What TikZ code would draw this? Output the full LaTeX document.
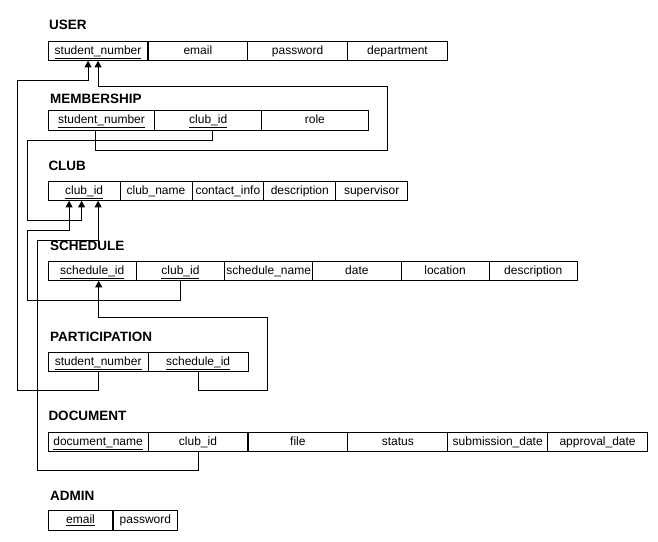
\documentclass[tikz,border=0pt]{standalone}
\usepackage{fontspec}
\setmainfont{Liberation Sans}
\usetikzlibrary{arrows.meta,matrix}

\begin{document}
\begin{tikzpicture}[x=1pt,y=-1pt,
    tbl/.style={matrix of nodes, anchor=north west, inner sep=0pt, outer sep=0pt, column sep=-0.9pt,
      nodes={draw, line width=0.9pt, minimum width=#1, minimum height=19.7pt, inner xsep=1pt,
        inner ysep=0pt, outer sep=0pt, text height=9pt, text depth=3pt, font=\fontsize{12}{14}\selectfont}},
    title/.style={anchor=base west, inner sep=0pt, font=\fontsize{13.5}{16}\selectfont\bfseries},
    fk/.style={line width=0.9pt, -{Triangle[width=7pt,length=6.5pt]}}]
    \useasboundingbox (0,0) rectangle (658,541);

    % tables
    \node[title] (userT) at (49,29.3) {USER};
    \matrix (user) [tbl=99.8pt] at (47.7,40.7) {
      \underline{student\_number} & email & password & department \\
    };
    \node[title] (memT) at (50,103.3) {MEMBERSHIP};
    \matrix (mem) [tbl=106.7pt] at (47.7,110) {
      \underline{student\_number} & \underline{club\_id} & role \\
    };
    \node[title] (clubT) at (48.3,170.7) {CLUB};
    \matrix (club) [tbl=71.9pt] at (47.7,180.7) {
      \underline{club\_id} & club\_name & contact\_info & description & supervisor \\
    };
    \node[title] (schT) at (50,250) {SCHEDULE};
    \matrix (sch) [tbl=88.2pt] at (47.7,260.7) {
      \underline{schedule\_id} & \underline{club\_id} & schedule\_name & date & location & description \\
    };
    \node[title] (partT) at (50,341) {PARTICIPATION};
    \matrix (part) [tbl=100pt] at (47.7,351.7) {
      \underline{student\_number} & \underline{schedule\_id} \\
    };
    \node[title] (docT) at (48.3,420.7) {DOCUMENT};
    \matrix (doc) [tbl=99.9pt] at (47.7,431.7) {
      \underline{document\_name} & club\_id & file & status & submission\_date & approval\_date \\
    };
    \node[title] (adminT) at (50,500) {ADMIN};
    \matrix (admin) [tbl=64.8pt] at (47.7,510) {
      \underline{email} & password \\
    };

    % foreign keys
    \draw[fk] (part-1-1.south) -- ++(0,19) -| (17,80) -| ([xshift=-10pt]user-1-1.south);
    \draw[fk] ([xshift=-6pt]mem-1-1.south) -- ++(0,20) -| (387,86) -| (user-1-1.south);
    \draw[fk] ([xshift=4pt]mem-1-2.south) -- ++(0,10) -| (27,220) -| ([xshift=-2.5pt]club-1-1.south);
    \draw[fk] (sch-1-2.south) -- ++(0,20) -| (27,230) -| ([xshift=-15pt]club-1-1.south);
    \draw[fk] (doc-1-2.south) -- ++(0,19) -| (37,240) -| ([xshift=14pt]club-1-1.south);
    \draw[fk] (part-1-2.south) -- ++(0,19) -| (267,317) -| ([xshift=6.5pt]sch-1-1.south);
  \end{tikzpicture}
\end{document}
